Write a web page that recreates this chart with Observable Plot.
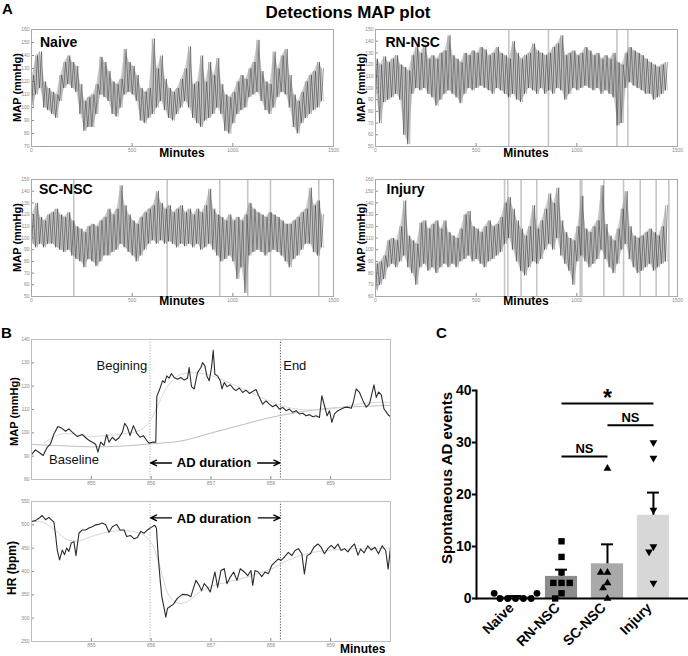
<!DOCTYPE html>
<html>
<head>
<meta charset="utf-8">
<script src="https://cdn.jsdelivr.net/npm/d3@7"></script>
<script src="https://cdn.jsdelivr.net/npm/@observablehq/plot@0.6"></script>
<style>
  html, body { margin: 0; padding: 0; background: #fff; overflow: hidden; }
  #fig { position: relative; width: 688px; height: 656px; overflow: hidden; background: #fff; }
</style>
</head>
<body>
<div id="fig"></div>
<script>
// ================= DATA =================
// Panel A: 24 h MAP traces, read every 20 min as (low, high) envelope values (mmHg)
const binMin = 20;
const naiveLo = [100,110,115,100,98,95,92,105,115,118, 115,112,95,82,85,85,95,110,108,105, 95,93,100,110,112,110,105,90,88,92, 95,100,105,98,92,90,95,100,105,100, 92,88,85,90,92,95,100,95,82,80, 88,95,98,100,108,110,112,105,98,95, 100,108,112,110,100,85,80,88,92,95, 98,100,105];
const naiveHi = [125,140,143,120,115,112,110,125,135,140, 135,132,118,105,108,110,118,139,135,128, 120,118,122,145,135,132,125,115,112,115, 153,130,140,122,115,112,115,122,130,147, 118,120,140,120,135,125,138,118,110,108, 112,120,125,122,130,135,152,128,120,118, 143,130,140,145,125,110,105,112,120,125, 128,135,130];
const rnLo = [95,70,88,90,92,95,90,60,52,95, 100,98,100,95,92,85,90,95,98,95, 92,87,95,100,98,100,102,100,98,95, 100,98,95,92,95,90,88,95,100,98, 95,100,95,98,95,100,98,90,95,100, 98,100,102,100,98,100,95,98,95,92, 68,70,100,105,102,100,98,95,95,90, 92,95,98];
const rnHi = [125,120,127,122,125,128,120,118,115,128, 135,130,137,125,128,125,130,132,145,128, 125,122,130,128,132,130,135,133,128,130, 135,130,128,125,140,130,125,128,130,138, 132,130,128,130,135,138,145,128,130,132, 128,130,135,132,128,130,125,128,125,130, 122,120,130,135,132,130,128,125,122,120, 118,120,122];
const scLo = [95,92,95,92,95,95,92,90,88,90, 85,82,80,75,82,80,76,80,85,85, 88,90,95,92,88,85,80,85,90,95, 98,95,98,95,97,95,92,95,93,95, 92,95,90,92,95,90,85,80,82,85, 80,65,75,53,85,88,90,88,85,88, 90,88,85,80,75,82,85,90,95,95, 88,85,92];
const scHi = [120,130,118,115,120,122,125,120,118,122, 115,110,108,105,110,112,110,115,118,125, 120,125,145,128,120,115,112,118,122,125, 128,140,130,125,128,122,125,128,122,125, 120,125,122,128,142,125,120,118,115,120, 115,118,115,120,130,125,122,120,118,122, 120,118,115,112,112,115,118,122,125,143, 128,132,120];
const injLo = [65,70,75,85,88,85,90,95,85,80, 70,85,88,82,85,80,85,88,85,88, 85,90,92,95,90,92,88,85,90,92, 95,98,105,110,100,90,82,78,85,90, 88,92,100,105,100,110,95,88,82,70, 90,95,90,85,88,92,100,92,85,80, 88,100,105,92,85,80,82,85,88,82, 85,88,90];
const injHi = [88,90,95,108,110,108,120,142,112,108, 105,123,125,118,122,125,118,125,115,112, 110,118,130,133,120,118,115,120,125,120, 122,128,140,145,135,125,118,112,120,138, 118,125,135,148,140,153,125,115,110,108, 120,146,118,115,120,125,155,122,112,108, 118,135,150,120,112,110,112,115,118,115, 112,120,138];
// detected AD events (minutes)
const naiveDet = [];
const rnDet = [662, 859, 1199, 1253];
const scDet = [210, 674, 935, 1074, 1187, 1427];
const injDet = [641, 657, 723, 801, 1017, 1025, 1134, 1232, 1315, 1394, 1457];
const minuteTicks = [0, 500, 1000, 1500];

// Panel B: single event (minutes 854-860)
const adStart = 855.98, adEnd = 858.16;
const mapT = [854.000,854.067,854.123,854.195,854.262,854.318,854.374,854.441,854.497,854.570,854.625,854.681,854.765,854.849,854.905,854.960,855.016,855.072,855.111,855.156,855.212,855.256,855.295,855.351,855.407,855.463,855.519,855.558,855.602,855.647,855.703,855.759,855.815,855.870,855.926,855.965,856.021,856.077,856.094,856.150,856.189,856.228,856.261,856.300,856.339,856.384,856.440,856.496,856.552,856.607,856.635,856.674,856.719,856.775,856.831,856.859,856.898,856.931,856.970,857.009,857.037,857.065,857.110,857.155,857.183,857.222,857.266,857.322,857.378,857.417,857.473,857.529,857.585,857.640,857.696,857.752,857.808,857.864,857.920,857.975,858.031,858.087,858.143,858.199,858.255,858.310,858.366,858.422,858.478,858.534,858.590,858.645,858.701,858.757,858.813,858.852,858.897,858.941,858.980,859.020,859.064,859.120,859.176,859.232,859.288,859.343,859.377,859.427,859.482,859.539,859.595,859.650,859.724,859.762,859.801,859.846,859.891,859.930,859.968,860.000];
const mapV = [90.7,92.7,91.7,90.3,93.8,95.3,99.5,102.7,102.1,100.7,101.7,100.3,98.4,99.3,97.9,96.8,96.0,95.1,91.7,96.0,94.6,99.3,96.0,98.1,96.7,97.9,100.3,104.1,102.4,98.8,103.1,99.8,98.1,98.8,96.7,95.6,96.0,96.0,115.5,119.2,122.3,121.6,124.4,123.4,125.4,123.7,123.0,123.7,122.6,123.4,128.0,119.8,118.8,125.8,128.0,130.1,128.7,124.4,122.3,128.0,135.4,125.1,124.4,122.3,118.8,121.6,119.8,120.6,118.8,118.1,119.2,117.3,118.3,116.9,117.7,118.6,115.2,112.3,113.7,112.3,111.2,112.0,110.2,110.9,109.5,110.2,108.8,109.5,108.1,108.4,107.3,107.8,106.9,107.3,106.6,115.9,111.6,107.3,109.5,104.5,108.1,109.5,110.2,110.9,111.0,110.5,113.0,118.8,117.3,113.8,111.0,112.5,120.6,115.2,117.5,116.3,110.3,108.9,107.5,107.0];
const mapBaseT = [854.0,854.5,855.0,855.5,856.0,856.5,857.0,857.5,858.0,858.5,859.0,859.5,860.0];
const mapBaseV = [95,94.5,94.0,94.3,95.3,96.5,99.9,103.3,106.6,109.0,110.6,111.3,111.8];
const mapFitT = [854.2,854.5,855.0,855.5,855.8,855.95,856.1,856.25,856.45,856.7,857.0,857.3,857.6,857.9,858.2,858.5,858.9,859.3,859.7,860.0];
const mapFitV = [95.5,99.5,98.5,99.5,101,104,111,119,124.5,125.8,124.5,121.5,118,114.5,111.5,110,110,111.5,113,113];
const hrT = [854.000,854.067,854.123,854.179,854.235,854.290,854.346,854.374,854.402,854.430,854.469,854.514,854.553,854.586,854.625,854.664,854.709,854.743,854.793,854.849,854.905,854.960,855.016,855.072,855.128,855.184,855.240,855.295,855.351,855.424,855.480,855.547,855.591,855.658,855.714,855.770,855.826,855.882,855.937,855.993,856.060,856.088,856.116,856.150,856.178,856.217,856.245,856.272,856.317,856.373,856.440,856.524,856.607,856.663,856.747,856.803,856.842,856.886,856.942,856.987,857.026,857.065,857.111,857.166,857.222,857.266,857.322,857.379,857.434,857.489,857.556,857.613,857.668,857.697,857.735,857.791,857.848,857.903,857.958,858.015,858.070,858.126,858.171,858.226,858.293,858.350,858.405,858.461,858.518,858.561,858.606,858.662,858.719,858.786,858.841,858.896,858.953,859.008,859.064,859.121,859.176,859.231,859.288,859.343,859.399,859.456,859.50,859.56,859.62,859.68,859.74,859.80,859.86,859.92,859.96,860.00];
const hrV = [507,509,514,520,511,516,509,506,479,446,425,446,436,450,443,461,464,434,482,489,489,493,496,500,501,504,500,484,496,501,489,489,475,477,470,473,486,482,489,494,499,493,436,382,346,321,302,321,325,330,343,351,350,346,381,370,359,374,366,356,377,399,366,402,406,374,388,399,381,406,399,391,402,370,402,399,389,399,395,413,420,427,424,431,441,434,445,449,438,395,434,438,452,459,452,438,449,456,449,459,445,449,442,452,459,435,448,440,455,446,452,438,455,445,405,452];
const hrFitT = [854.0,854.2,854.4,854.6,854.8,855.0,855.3,855.6,855.85,856.0,856.1,856.2,856.3,856.45,856.6,856.8,857.0,857.3,857.6,858.0,858.3,858.6,859.0,859.5,860.0];
const hrFitV = [508,505,488,468,466,475,485,487,480,462,430,385,348,332,335,355,368,378,388,405,425,438,446,449,450];
const minuteTicksB = [855, 856, 857, 858, 859];

// Panel C: spontaneous AD events per animal
const cGroups = ["Naive", "RN-NSC", "SC-NSC", "Injury"];
const naiveEvents = [0, 0, 0, 0, 0, 1, 1];
const rnEvents = [11, 8, 5, 3, 3, 3, 1, 0];
const scEvents = [25, 5, 5, 3, 2, 0];
const injEvents = [30, 27, 17, 10, 9, 3];
const cTicks = [0, 10, 20, 30, 40];
const sigFrom = ["RN-NSC", "SC-NSC", "RN-NSC"];
const sigTo = ["Injury", "Injury", "SC-NSC"];
const sigLevel = [37.5, 33.3, 27.3];
const sigLabel = ["*", "NS", "NS"];

// ================= DRAWING =================
const fig = document.getElementById("fig");
const FONT = '"Liberation Sans", Arial, Helvetica, sans-serif';
function place(node, left, top) {
  node.style.position = "absolute";
  node.style.left = left + "px";
  node.style.top = top + "px";
  fig.appendChild(node);
}
const tinyStyle = {fontFamily: FONT, fontSize: "5px", color: "#8a8a8a", background: "#fff", overflow: "visible"};

// two interleaved zig-zags through the read (low, high) values, plus the band between them
function zig(lo, hi, phase) {
  const pts = [];
  lo.forEach((v, i) => {
    const a = phase ? hi[i] : lo[i], b = phase ? lo[i] : hi[i];
    pts.push({t: i * binMin, v: a});
    pts.push({t: i * binMin + binMin / 2, v: b});
  });
  return pts;
}
const bins = (lo, hi) => lo.map((v, i) => ({t: i * binMin + binMin / 4, lo: v, hi: hi[i]}));

const panelsA = [
  {lo: naiveLo, hi: naiveHi, det: naiveDet, y: [70, 160], left: 0, top: 20},
  {lo: rnLo, hi: rnHi, det: rnDet, y: [50, 150], left: 344, top: 20},
  {lo: scLo, hi: scHi, det: scDet, y: [50, 150], left: 0, top: 170},
  {lo: injLo, hi: injHi, det: injDet, y: [60, 160], left: 344, top: 170}
];
for (const p of panelsA) {
  const svg = Plot.plot({
    width: 344, height: 142, marginLeft: 31, marginRight: 11, marginTop: 9, marginBottom: 16,
    style: tinyStyle,
    x: {domain: [0, 1500], ticks: minuteTicks, tickFormat: "d", tickSize: -3, tickPadding: 5, label: null},
    y: {domain: p.y, ticks: d3.range(p.y[0], p.y[1] + 1, 10), tickFormat: "d", tickSize: -3, tickPadding: 5, label: null},
    marks: [
      Plot.ruleX(p.det, {x: d => d, stroke: "#c6c6c6", strokeWidth: 1.6}),
      Plot.areaY(bins(p.lo, p.hi), {x: "t", y1: "lo", y2: "hi", fill: "#8f8f8f", fillOpacity: 0.45}),
      Plot.line(zig(p.lo, p.hi, 1), {x: "t", y: "v", stroke: "#9a9a9a", strokeWidth: 0.5}),
      Plot.line(zig(p.lo, p.hi, 0), {x: "t", y: "v", stroke: "#2e2e2e", strokeWidth: 0.5}),
      Plot.frame({stroke: "#a8a8a8"})
    ]
  });
  place(svg, p.left, p.top);
}

// ---- Panel B: MAP ----
const rows = (T, V) => T.map((t, i) => ({t, v: V[i]}));
const mapNotes = [
  {x: 855.51, y: 128.9, text: "Begining"},
  {x: 858.40, y: 128.9, text: "End"},
  {x: 854.71, y: 88.3, text: "Baseline"}
];
const bMap = Plot.plot({
  width: 400, height: 165, marginLeft: 31, marginRight: 10, marginTop: 14, marginBottom: 11,
  style: tinyStyle,
  x: {domain: [854, 860], ticks: minuteTicksB, tickFormat: "d", tickSize: -3, tickPadding: 5, label: null},
  y: {domain: [80, 140], ticks: d3.range(80, 141, 10), tickFormat: "d", tickSize: -3, tickPadding: 5, label: null},
  marks: [
    Plot.ruleX([adStart], {x: d => d, stroke: "#b0b0b0", strokeDasharray: "1.2,1.6"}),
    Plot.ruleX([adEnd], {x: d => d, stroke: "#4a4a4a", strokeDasharray: "1.2,1.6"}),
    Plot.line(rows(mapBaseT, mapBaseV), {x: "t", y: "v", stroke: "#bdbdbd", strokeWidth: 1, curve: "catmull-rom"}),
    Plot.line(rows(mapFitT, mapFitV), {x: "t", y: "v", stroke: "#dadada", strokeWidth: 1, curve: "catmull-rom"}),
    Plot.line(rows(mapT, mapV), {x: "t", y: "v", stroke: "#2b2b2b", strokeWidth: 1.1}),
    Plot.text(mapNotes, {x: "x", y: "y", text: "text", fontSize: 13, fill: "#111"}),
    Plot.text([{x: 857.05, y: 87.3}], {x: "x", y: "y", text: () => "AD duration", fontSize: 13, fontWeight: "bold", fill: "#000"}),
    Plot.arrow([{x1: 856.34, x2: 855.99, y: 87.1}, {x1: 857.78, x2: 858.15, y: 87.1}],
      {x1: "x1", x2: "x2", y1: "y", y2: "y", stroke: "#000", strokeWidth: 1.4, headLength: 7, headAngle: 50}),
    Plot.frame({stroke: "#bdbdbd"})
  ]
});
place(bMap, 0, 325);

// ---- Panel B: HR ----
const bHr = Plot.plot({
  width: 400, height: 166, marginLeft: 31, marginRight: 10, marginTop: 11, marginBottom: 15,
  style: tinyStyle,
  x: {domain: [854, 860], ticks: minuteTicksB, tickFormat: "d", tickSize: -3, tickPadding: 5, label: null},
  y: {domain: [250, 550], ticks: d3.range(250, 551, 50), tickFormat: "d", tickSize: -3, tickPadding: 5, label: null},
  marks: [
    Plot.ruleX([adStart], {x: d => d, stroke: "#b0b0b0", strokeDasharray: "1.2,1.6"}),
    Plot.ruleX([adEnd], {x: d => d, stroke: "#4a4a4a", strokeDasharray: "1.2,1.6"}),
    Plot.line(rows(hrFitT, hrFitV), {x: "t", y: "v", stroke: "#d6d6d6", strokeWidth: 1, curve: "catmull-rom"}),
    Plot.line(rows(hrT, hrV), {x: "t", y: "v", stroke: "#2b2b2b", strokeWidth: 1.1}),
    Plot.text([{x: 857.05, y: 513.6}], {x: "x", y: "y", text: () => "AD duration", fontSize: 13, fontWeight: "bold", fill: "#000"}),
    Plot.arrow([{x1: 856.34, x2: 855.99, y: 515}, {x1: 857.79, x2: 858.15, y: 515}],
      {x1: "x1", x2: "x2", y1: "y", y2: "y", stroke: "#000", strokeWidth: 1.4, headLength: 7, headAngle: 50}),
    Plot.frame({stroke: "#bdbdbd"})
  ]
});
place(bHr, 0, 490);

// ---- Panel C ----
const groupVals = [naiveEvents, rnEvents, scEvents, injEvents];
const cPts = cGroups.flatMap((g, gi) => groupVals[gi].map(v => ({g, v})));
const cStats = cGroups.map((g, gi) => {
  const vals = groupVals[gi];
  const m = d3.mean(vals);
  const sem = d3.deviation(vals) / Math.sqrt(vals.length);
  return {g, mean: m, top: m + sem};
});
const triangleDown = {
  draw(context, size) {
    const s3 = Math.sqrt(3);
    const y = -Math.sqrt(size / (s3 * 3));
    context.moveTo(0, -y * 2);
    context.lineTo(-s3 * y, y);
    context.lineTo(s3 * y, y);
    context.closePath();
  }
};
const symbolsC = [d3.symbolCircle, d3.symbolSquare, d3.symbolTriangle, triangleDown];
const radiusC = [3.4, 3.6, 2.9, 2.9];
const padIn = 0.3, padOut = 0.5;
const cGeom = {width: 262, height: 316, marginLeft: 46, marginRight: 0, marginTop: 50, marginBottom: 58};
const cMain = Plot.plot({
  ...cGeom,
  style: {fontFamily: FONT, background: "#fff", overflow: "visible"},
  fx: {domain: cGroups, paddingInner: padIn, paddingOuter: padOut, round: false, axis: null, label: null},
  y: {domain: [0, 40], axis: null},
  color: {domain: cGroups, range: ["#555555", "#8c8c8c", "#a9a9a9", "#d7d7d7"]},
  marks: [
    Plot.barY(cStats, {fx: "g", y: "mean", fill: "g"}),
    ...cGroups.map((g, gi) => Plot.dot(cPts.filter(d => d.g === g),
      Plot.dodgeX("middle", {fx: "g", y: "v", r: radiusC[gi], padding: 0.8, symbol: symbolsC[gi], fill: "#000", stroke: "none"})))
  ]
});
place(cMain, 430, 340);

// overlay with a linear x whose integer positions coincide with the band centers above
const xLo = -(padOut + (1 - padIn) / 2);
const xHi = cGroups.length - 1 - xLo;
const idx = g => cGroups.indexOf(g);
const capHalf = 0.13;
const sig = sigFrom.map((f, i) => ({a: idx(f), b: idx(sigTo[i]), y: sigLevel[i], label: sigLabel[i]}));
const cOver = Plot.plot({
  ...cGeom,
  style: {fontFamily: FONT, fontWeight: "bold", color: "#000", background: "none", overflow: "visible"},
  x: {domain: [xLo, xHi]},
  y: {domain: [0, 40]},
  marks: [
    Plot.ruleX(cStats, {x: d => idx(d.g), y1: "mean", y2: "top", stroke: "#000", strokeWidth: 2}),
    Plot.ruleY(cStats, {y: "top", x1: d => idx(d.g) - capHalf, x2: d => idx(d.g) + capHalf, stroke: "#000", strokeWidth: 2}),
    Plot.frame({anchor: "left", stroke: "#000", strokeWidth: 2}),
    Plot.ruleY([0], {stroke: "#000", strokeWidth: 2, insetRight: 3}),
    Plot.axisY({ticks: cTicks, tickSize: 4, tickPadding: 1, strokeWidth: 2, fontSize: 14, label: null}),
    Plot.axisX({ticks: d3.range(cGroups.length), tickFormat: i => cGroups[i], tickRotate: -45, tickSize: 0, tickPadding: 7, dx: -4, fontSize: 14, label: null}),
    Plot.link(sig, {x1: "a", x2: "b", y1: "y", y2: "y", stroke: "#000", strokeWidth: 2}),
    Plot.text(sig.filter(d => d.label === "*"), {x: d => (d.a + d.b) / 2, y: "y", text: "label", fontSize: 23, lineAnchor: "bottom", dy: 2, fill: "#000"}),
    Plot.text(sig.filter(d => d.label !== "*"), {x: d => (d.a + d.b) / 2, y: "y", text: "label", fontSize: 13, lineAnchor: "bottom", dy: -3.5, fill: "#000"})
  ]
});
place(cOver, 430, 340);

// ---- figure-level text ----
const labels = [
  {t: "A", x: 2, y: 13.5, s: 15},
  {t: "Detections MAP plot", x: 348, y: 17.5, s: 17, a: "middle"},
  {t: "Naive", x: 40, y: 46.5, s: 14},
  {t: "RN-NSC", x: 385.5, y: 46.5, s: 14},
  {t: "SC-NSC", x: 39, y: 193.5, s: 14},
  {t: "Injury", x: 386.5, y: 193.5, s: 14},
  {t: "MAP (mmHg)", x: 17, y: 87.5, s: 11, rot: true},
  {t: "MAP (mmHg)", x: 361, y: 87.5, s: 11, rot: true},
  {t: "MAP (mmHg)", x: 17, y: 237.5, s: 11, rot: true},
  {t: "MAP (mmHg)", x: 361, y: 237.5, s: 11, rot: true},
  {t: "Minutes", x: 182, y: 157, s: 12, a: "middle"},
  {t: "Minutes", x: 526, y: 157, s: 12, a: "middle"},
  {t: "Minutes", x: 182, y: 304.5, s: 12, a: "middle"},
  {t: "Minutes", x: 526, y: 304.5, s: 12, a: "middle"},
  {t: "B", x: 1, y: 337.5, s: 15},
  {t: "C", x: 436, y: 338, s: 15},
  {t: "MAP (mmHg)", x: 14, y: 411.5, s: 11, rot: true},
  {t: "HR (bpm)", x: 12, y: 568, s: 12, rot: true},
  {t: "Minutes", x: 340, y: 653, s: 12},
  {t: "Spontaneous AD events", x: 446, y: 478, s: 15, rot: true}
];
const ov = d3.create("svg").attr("width", 688).attr("height", 656)
  .style("pointer-events", "none").style("overflow", "visible");
for (const l of labels) {
  const t = ov.append("text").text(l.t)
    .attr("font-family", FONT).attr("font-weight", "bold").attr("font-size", l.s).attr("fill", "#000");
  if (l.rot) {
    t.attr("transform", `translate(${l.x},${l.y}) rotate(-90)`).attr("text-anchor", "middle").attr("dominant-baseline", "central");
  } else {
    t.attr("x", l.x).attr("y", l.y).attr("text-anchor", l.a || "start");
  }
}
place(ov.node(), 0, 0);
</script>
</body>
</html>
